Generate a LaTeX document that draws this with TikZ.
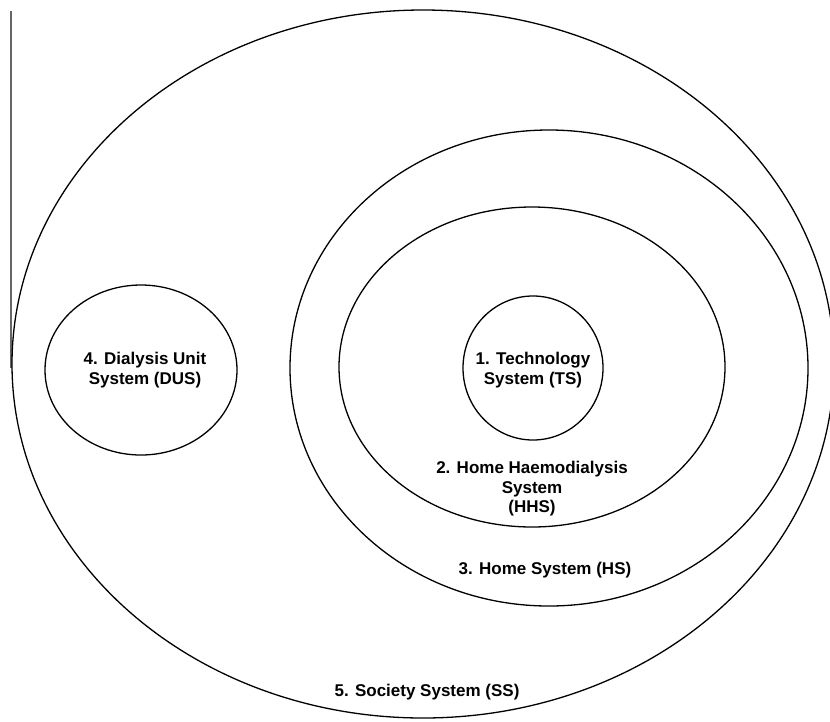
\documentclass[tikz,border=0pt]{standalone}
\usepackage{fontspec}
\setmainfont{Liberation Sans}
\usetikzlibrary{shapes.geometric}
\begin{document}
\begin{tikzpicture}[x=1pt,y=-1pt,
  ring/.style={draw=black,line width=1.3pt},
  lbl/.style={font=\bfseries\fontsize{17}{19.5}\selectfont,align=center,inner sep=0pt}]
\useasboundingbox (0,0) rectangle (830,721);
\clip (0,0) rectangle (830,721);
\fill[white] (0,0) rectangle (830,721);
\draw[gray!80!black,line width=1.1pt] (11,11) coordinate (lt) -- (11,368) coordinate (lb);
\draw[ring] (423,364) ellipse [x radius=411, y radius=354];
\draw[ring] (549,368) ellipse [x radius=259, y radius=238];
\draw[ring] (532,367) ellipse [x radius=193, y radius=160];
\draw[ring] (533,368) ellipse [x radius=70, y radius=72];
\draw[ring] (141,370) ellipse [x radius=96, y radius=85];
\node[lbl] (ts) at (533,370) {1. Technology\\System (TS)};
\node[lbl] (hhs) at (532,489) {2. Home Haemodialysis\\System\\(HHS)};
\node[lbl] (hs) at (545,570) {3. Home System (HS)};
\node[lbl] (dus) at (145,370) {4. Dialysis Unit\\System (DUS)};
\node[lbl] (ss) at (427,692) {5. Society System (SS)};
\end{tikzpicture}
\end{document}
